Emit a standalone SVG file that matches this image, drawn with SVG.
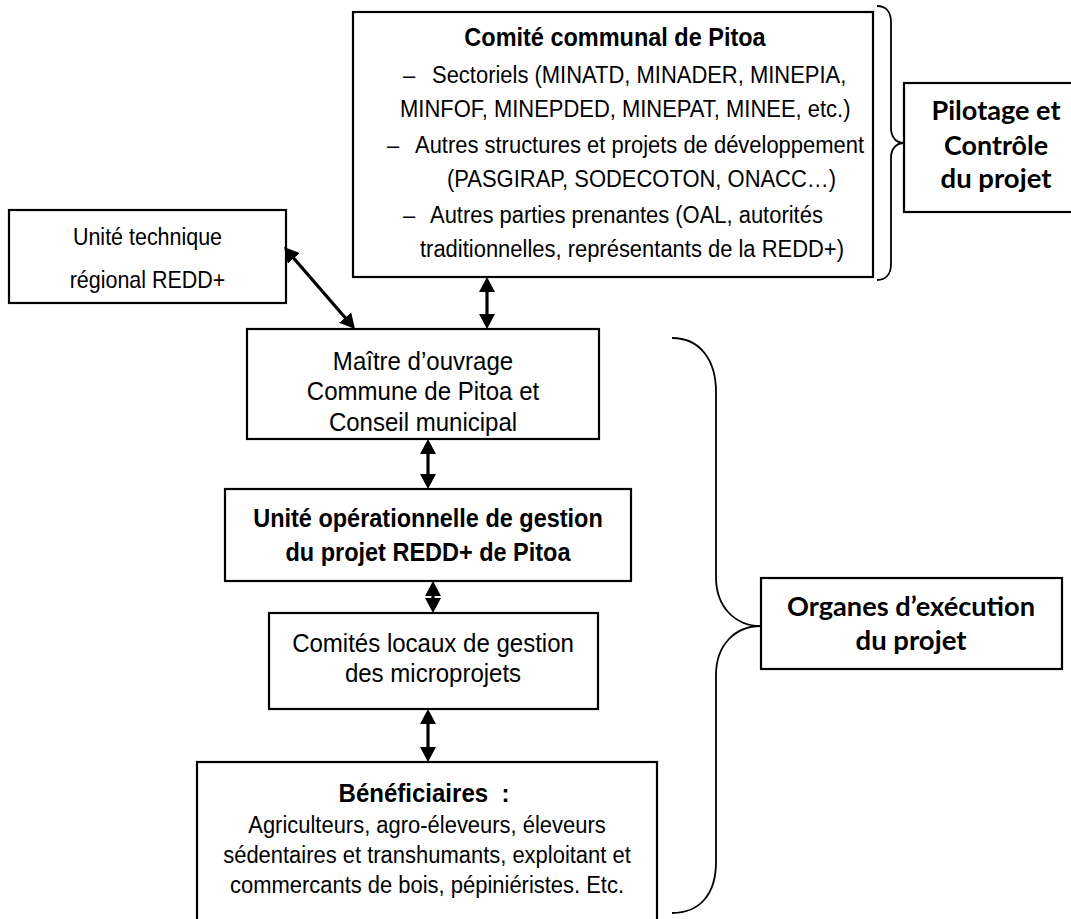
<svg xmlns="http://www.w3.org/2000/svg" width="1071" height="919" viewBox="0 0 1071 919">
<style>
  .box { fill: #fff; stroke: #000; stroke-width: 2.2; }
  .t { font-family: "Liberation Sans", Arial, sans-serif; font-size: 24.4px; fill: #000; }
  .t24 { font-family: "Liberation Sans", Arial, sans-serif; font-size: 26.7px; fill: #000; }
  .b { font-family: "Liberation Sans", Arial, sans-serif; font-size: 26.1px; font-weight: bold; fill: #000; }
  .c { font-family: Lato, "Open Sans", sans-serif; font-size: 27px; font-weight: bold; fill: #000; }
  .mid { text-anchor: middle; }
  .con { stroke: #000; stroke-width: 3.2; fill: none; }
  .brace { stroke: #000; stroke-width: 1.8; fill: none; }
</style>
<defs>
  <marker id="ah" viewBox="0 0 15 16" refX="10" refY="8" markerWidth="15" markerHeight="16" markerUnits="userSpaceOnUse" orient="auto-start-reverse">
    <path d="M0,0 L15,8 L0,16 z" fill="#000"/>
  </marker>
</defs>
<rect width="1071" height="919" fill="#fff"/>

<g id="comite">
  <rect class="box" x="353" y="12" width="520" height="265"/>
  <text class="b mid" transform="translate(615,0) scale(0.9,1)" x="0" y="46">Comité communal de Pitoa</text>
  <text class="t" transform="translate(403,0) scale(0.9,1)" x="0" y="83">–</text>
  <text class="t" transform="translate(432,0) scale(0.9,1)" x="0" y="83">Sectoriels (MINATD, MINADER, MINEPIA,</text>
  <text class="t" transform="translate(400,0) scale(0.9,1)" x="0" y="117">MINFOF, MINEPDED, MINEPAT, MINEE, etc.)</text>
  <text class="t" transform="translate(387,0) scale(0.9,1)" x="0" y="153">–</text>
  <text class="t" transform="translate(415,0) scale(0.9,1)" x="0" y="153">Autres structures et projets de développement</text>
  <text class="t" transform="translate(447,0) scale(0.9,1)" x="0" y="187">(PASGIRAP, SODECOTON, ONACC…)</text>
  <text class="t" transform="translate(403,0) scale(0.9,1)" x="0" y="223">–</text>
  <text class="t" transform="translate(430,0) scale(0.9,1)" x="0" y="223">Autres parties prenantes (OAL, autorités</text>
  <text class="t" transform="translate(420,0) scale(0.9,1)" x="0" y="257">traditionnelles, représentants de la REDD+)</text>
</g>

<g id="pilotage">
  <rect class="box" x="904" y="83" width="190" height="129"/>
  <text class="c mid" x="996" y="120" textLength="129" lengthAdjust="spacingAndGlyphs">Pilotage et</text>
  <text class="c mid" x="996" y="155" textLength="104" lengthAdjust="spacingAndGlyphs">Contrôle</text>
  <text class="c mid" x="996" y="188" textLength="111" lengthAdjust="spacingAndGlyphs">du projet</text>
</g>

<g id="unite-technique">
  <rect class="box" x="9" y="210" width="277" height="93"/>
  <text class="t mid" transform="translate(147.5,0) scale(0.88,1)" x="0" y="245">Unité technique</text>
  <text class="t mid" transform="translate(147.5,0) scale(0.88,1)" x="0" y="288">régional REDD+</text>
</g>

<g id="maitre">
  <rect class="box" x="247" y="329" width="352" height="110"/>
  <text class="t24 mid" transform="translate(423,0) scale(0.9,1)" x="0" y="370">Maître d’ouvrage</text>
  <text class="t24 mid" transform="translate(423,0) scale(0.9,1)" x="0" y="400">Commune de Pitoa et</text>
  <text class="t24 mid" transform="translate(423,0) scale(0.9,1)" x="0" y="431">Conseil municipal</text>
</g>

<g id="unite-operationnelle">
  <rect class="box" x="225" y="489" width="406" height="92"/>
  <text class="b mid" transform="translate(428,0) scale(0.9,1)" x="0" y="527">Unité opérationnelle de gestion</text>
  <text class="b mid" transform="translate(428,0) scale(0.9,1)" x="0" y="561">du projet REDD+ de Pitoa</text>
</g>

<g id="comites">
  <rect class="box" x="269" y="613" width="329" height="96"/>
  <text class="t24 mid" transform="translate(433,0) scale(0.9,1)" x="0" y="652">Comités locaux de gestion</text>
  <text class="t24 mid" transform="translate(433,0) scale(0.9,1)" x="0" y="682">des microprojets</text>
</g>

<g id="beneficiaires">
  <rect class="box" x="197" y="762" width="460" height="200"/>
  <text class="b mid" transform="translate(424,0) scale(0.9,1)" x="0" y="802" xml:space="preserve" style="font-size:26.7px">Bénéficiaires  :</text>
  <text class="t mid" transform="translate(427,0) scale(0.9,1)" x="0" y="833">Agriculteurs, agro-éleveurs, éleveurs</text>
  <text class="t mid" transform="translate(427,0) scale(0.9,1)" x="0" y="863">sédentaires et transhumants, exploitant et</text>
  <text class="t mid" transform="translate(427,0) scale(0.9,1)" x="0" y="893">commercants de bois, pépiniéristes. Etc.</text>
</g>

<g id="organes">
  <rect class="box" x="761" y="578" width="301" height="91"/>
  <text class="c mid" x="911" y="616" textLength="248" lengthAdjust="spacingAndGlyphs">Organes d’exécution</text>
  <text class="c mid" x="911" y="650" textLength="111" lengthAdjust="spacingAndGlyphs">du projet</text>
</g>

<g id="connectors">
  <line class="con" x1="287.3" y1="250.8" x2="351.7" y2="325.2" marker-start="url(#ah)" marker-end="url(#ah)"/>
  <line class="con" x1="487" y1="282" x2="487" y2="324" marker-start="url(#ah)" marker-end="url(#ah)"/>
  <line class="con" x1="428" y1="444" x2="428" y2="484" marker-start="url(#ah)" marker-end="url(#ah)"/>
  <line class="con" x1="433" y1="586" x2="433" y2="608" marker-start="url(#ah)" marker-end="url(#ah)"/>
  <line class="con" x1="428" y1="714" x2="428" y2="757" marker-start="url(#ah)" marker-end="url(#ah)"/>
  <path class="brace" d="M877,6 C886,6 891,12 891,22 L891,128 C891,137 896,143 904,143 C896,143 891,149 891,158 L891,264 C891,274 886,280 877,280"/>
  <path class="brace" d="M672,338 C700,338 716,360 716,392 L716,577 C716,607 735,626 761,626 C735,626 716,645 716,675 L716,862 C716,894 700,913 672,913"/>
</g>
</svg>
